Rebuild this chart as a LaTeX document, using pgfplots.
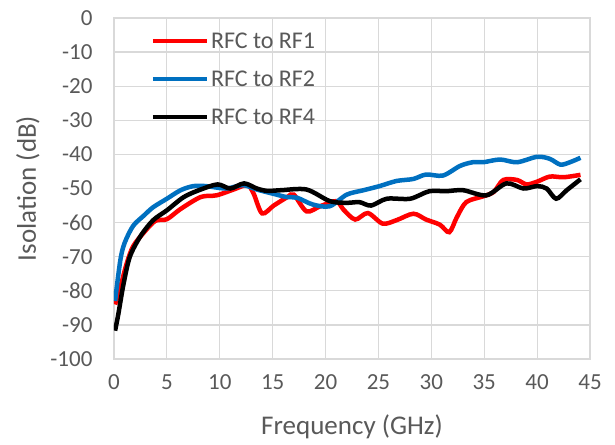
\documentclass[border=0pt]{standalone}
\usepackage{fontspec}
\setmainfont{Carlito}
\usepackage{pgfplots}
\pgfplotsset{compat=1.18}
\definecolor{txt}{HTML}{595959}
\definecolor{grd}{HTML}{D9D9D9}
\definecolor{myblue}{HTML}{0070C0}
\begin{document}
\begin{tikzpicture}
\useasboundingbox (-114pt,-85pt) rectangle (501pt,359pt);
\begin{axis}[
  scale only axis, width=476pt, height=341pt,
  xmin=0, xmax=45, ymin=-100, ymax=0,
  xtick={0,5,...,45}, ytick={-100,-90,...,0},
  grid=major, major grid style={grd, line width=1.2pt},
  axis line style={grd, line width=1.2pt},
  tick style={draw=none},
  /pgf/number format/assume math mode=true,
  ticklabel style={font=\fontsize{23}{27}\selectfont, text=txt},
  yticklabel style={xshift=-18pt},
  xticklabel style={yshift=-12pt},
  xlabel={Frequency (GHz)}, ylabel={Isolation (dB)},
  label style={font=\fontsize{27}{32}\selectfont, text=txt},
  xlabel style={yshift=-18pt},
  ylabel style={yshift=4pt},
  legend style={at={(0.07,0.97)}, anchor=north west, draw=none, fill=none,
    font=\fontsize{24}{28}\selectfont, text=txt, row sep=17pt,
    /tikz/every even column/.append style={column sep=0pt}},
  legend cell align=left,
  legend image code/.code={\draw[#1, line width=4.5pt] (0pt,0pt) -- (54pt,0pt);},
  every axis plot/.append style={line width=4.5pt, smooth, tension=0.5, no markers},
]
\addplot[red] coordinates {(0.1,-84)(0.3,-82)(0.6,-79)(1.2,-72)(1.8,-67)(2.8,-63)(3.9,-59.5)(5,-59)(6.3,-56)(8.2,-52.5)(9.7,-52)(11.3,-50.3)(12.6,-49)(13.2,-51.5)(14,-57.3)(15.1,-55)(16.4,-52.5)(17,-51.8)(18.2,-56.7)(19.5,-55.2)(21,-53.7)(21.7,-56.2)(22.8,-59.1)(24,-57.2)(25.4,-60.3)(26.7,-59.3)(28.3,-57.4)(29.5,-59.1)(30.8,-60.6)(31.7,-62.8)(32.4,-58.5)(33.3,-54)(34.9,-52.3)(35.9,-51)(36.8,-47.5)(38.1,-47.5)(39,-48.8)(40,-48)(41.2,-46.5)(42.5,-46.7)(44.1,-46)};
\addlegendentry{RFC to RF1}
\addplot[myblue] coordinates {(0.1,-83)(0.6,-71)(1.0,-66)(1.8,-61)(2.8,-58)(3.7,-55.5)(5,-53)(6.3,-50.5)(7.5,-49.3)(8.7,-49.3)(10.6,-50)(12.2,-49)(13.5,-50.3)(15,-51.5)(16.3,-52.5)(17.3,-52.7)(18.8,-54.7)(20.4,-55.2)(22,-51.8)(23.6,-50.5)(25.1,-49.3)(26.7,-47.8)(28.3,-47.2)(29.5,-45.9)(31.1,-46.2)(32.7,-43.4)(33.9,-42.3)(34.9,-42.3)(36.5,-41.5)(38.1,-42.3)(40,-40.7)(41.2,-41.3)(42.2,-43)(43.1,-42.3)(44.1,-41)};
\addlegendentry{RFC to RF2}
\addplot[black] coordinates {(0.1,-91.7)(0.4,-87)(0.9,-78)(1.5,-70)(2.5,-64)(3.7,-59.3)(5,-56.4)(6.6,-52.5)(8.2,-50.3)(9.8,-48.8)(11,-50)(12.3,-48.5)(13.5,-50)(14.5,-50.7)(15.8,-50.5)(18.2,-50.3)(20.4,-53.7)(22,-54.2)(23.2,-54)(24.3,-55)(25.8,-53)(28,-53)(29.8,-50.8)(31.4,-50.8)(33,-50.5)(35.2,-52)(37.1,-48.5)(38.7,-50)(40,-49.3)(40.9,-50)(41.8,-53)(42.8,-50.5)(44.1,-47.3)};
\addlegendentry{RFC to RF4}
\end{axis}
\end{tikzpicture}
\end{document}
